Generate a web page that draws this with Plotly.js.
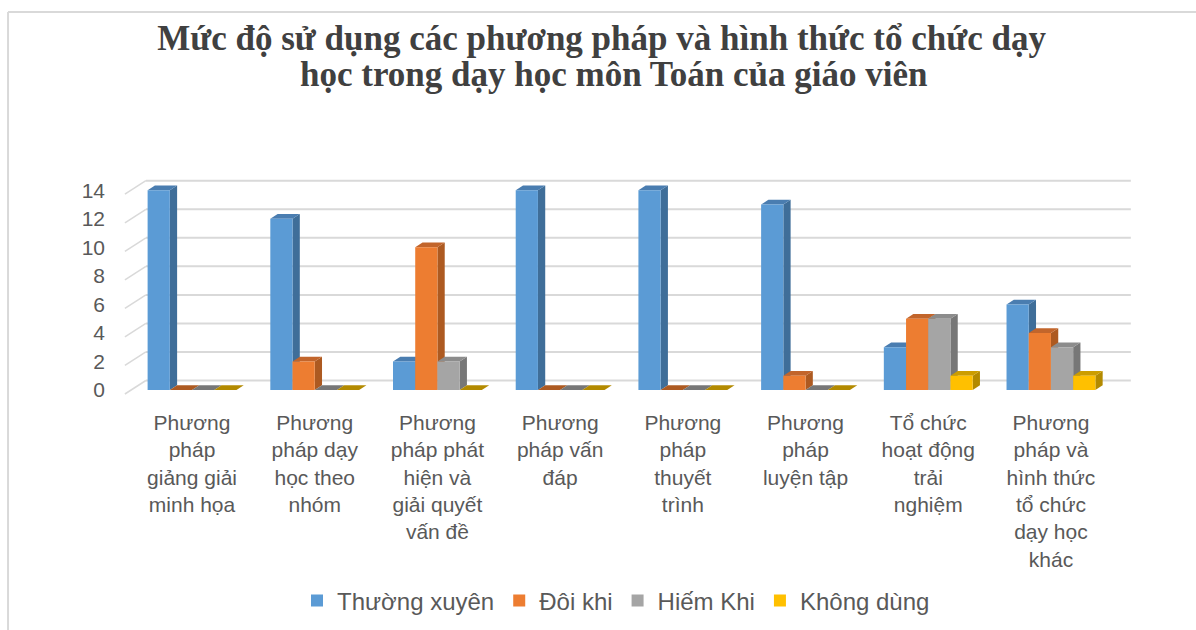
<!DOCTYPE html>
<html>
<head>
<meta charset="utf-8">
<script src="https://cdn.plot.ly/plotly-3.0.1.min.js"></script>
<style>
  html, body { margin: 0; padding: 0; background: #ffffff; }
  #chart { width: 1196px; height: 630px; }
</style>
</head>
<body>
<div id="chart"></div>
<script>
// ---- Data ----
const categories = [
  "Phương<br>pháp<br>giảng giải<br>minh họa",
  "Phương<br>pháp dạy<br>học theo<br>nhóm",
  "Phương<br>pháp phát<br>hiện và<br>giải quyết<br>vấn đề",
  "Phương<br>pháp vấn<br>đáp",
  "Phương<br>pháp<br>thuyết<br>trình",
  "Phương<br>pháp<br>luyện tập",
  "Tổ chức<br>hoạt động<br>trải<br>nghiệm",
  "Phương<br>pháp và<br>hình thức<br>tổ chức<br>dạy học<br>khác"
];
const thuongXuyen = [14, 12, 2, 14, 14, 13, 3, 6];
const doiKhi      = [0, 2, 10, 0, 0, 1, 5, 4];
const hiemKhi     = [0, 0, 2, 0, 0, 0, 5, 3];
const khongDung   = [0, 0, 0, 0, 0, 0, 1, 1];
const seriesNames = ["Thường xuyên", "Đôi khi", "Hiếm Khi", "Không dùng"];
const yTickVals = [0, 2, 4, 6, 8, 10, 12, 14];
const titleLine1 = "Mức độ sử dụng các phương pháp và hình thức tổ chức dạy";
const titleLine2 = "học trong dạy học môn Toán của giáo viên";

// ---- Styles ----
const frontColors = ["#5B9BD5", "#ED7D31", "#A5A5A5", "#FFC000"];
const sideColors  = ["#3F6E99", "#AD5A21", "#777777", "#B38A00"];
const topColors   = ["#4A7DB0", "#C2652B", "#8C8C8C", "#CC9D00"];
const seriesValues = [thuongXuyen, doiKhi, hiemKhi, khongDung];

const BW = 0.181;   // bar width (category units)
const DX = 0.0594;  // depth offset x
const DY = 0.33;    // depth offset y
const BACK = 0.666; // back wall vertical offset
const xIdx = categories.map((_, j) => j);
const titleFont = { family: "Liberation Serif", size: 35, color: "#404040", weight: "bold" };

const traces = seriesValues.map((vals, i) => ({
  type: "bar",
  name: seriesNames[i],
  x: xIdx,
  y: vals,
  width: BW,
  offset: -2 * BW + i * BW,
  marker: { color: frontColors[i], line: { width: 0 } },
  hoverinfo: "name+y"
}));

const shapes = [];
// back-wall gridlines and connectors
yTickVals.forEach(v => {
  shapes.push({ type: "line", layer: "below", xref: "x", yref: "y",
    x0: -0.376, x1: 7.651, y0: v + BACK, y1: v + BACK,
    line: { color: "#D9D9D9", width: 2 } });
  shapes.push({ type: "line", layer: "below", xref: "x", yref: "y",
    x0: -0.547, x1: -0.376, y0: v - 0.28, y1: v + BACK,
    line: { color: "#D9D9D9", width: 1.5 } });
});
// 3D side and top faces
seriesValues.forEach((vals, i) => {
  vals.forEach((v, j) => {
    const x0 = j - 2 * BW + i * BW;
    const x1 = x0 + BW;
    if (v > 0) {
      shapes.push({ type: "path", layer: "below", xref: "x", yref: "y",
        path: `M${x1},0 L${x1},${v} L${x1 + DX},${v + DY} L${x1 + DX},${DY} Z`,
        fillcolor: sideColors[i], line: { width: 0 } });
    }
    shapes.push({ type: "path", layer: "below", xref: "x", yref: "y",
      path: `M${x0},${v} L${x1},${v} L${x1 + DX},${v + DY} L${x0 + DX},${v + DY} Z`,
      fillcolor: v > 0 ? topColors[i] : sideColors[i], line: { width: 0 } });
  });
});
// outer chart frame (left and top edges)
shapes.push({ type: "line", xref: "paper", yref: "paper", x0: -0.1103, x1: -0.1103, y0: 1.741, y1: -1.07,
  line: { color: "#D9D9D9", width: 2 } });
shapes.push({ type: "line", xref: "paper", yref: "paper", x0: -0.1103, x1: 1.07, y0: 1.741, y1: 1.741,
  line: { color: "#D9D9D9", width: 2 } });

const layout = {
  width: 1196,
  height: 630,
  margin: { l: 120, r: 61, t: 175, b: 235 },
  paper_bgcolor: "#ffffff",
  plot_bgcolor: "rgba(0,0,0,0)",
  barmode: "overlay",
  showlegend: true,
  title: {
    text: titleLine1,
    xref: "container", x: 0.503, xanchor: "center",
    yref: "container", y: 1 - 38 / 630, yanchor: "middle",
    font: titleFont
  },
  annotations: [{
    text: titleLine2, showarrow: false,
    xref: "paper", yref: "paper",
    x: (614 - 120) / 1015, xanchor: "center",
    y: (395 - 74) / 220, yanchor: "middle",
    font: titleFont
  }],
  xaxis: {
    range: [-0.587, 7.685],
    tickmode: "array",
    tickvals: xIdx,
    ticktext: categories,
    showgrid: false, zeroline: false, showline: false, ticks: "",
    ticklabelstandoff: 13,
    tickfont: { family: "Liberation Sans", size: 21, color: "#595959" },
    fixedrange: true
  },
  yaxis: {
    range: [-0.3504, 15.067],
    tickmode: "array",
    tickvals: yTickVals,
    showgrid: false, zeroline: false, showline: false, ticks: "",
    ticklabelstandoff: 14,
    tickfont: { family: "Liberation Sans", size: 21, color: "#595959" },
    fixedrange: true
  },
  legend: {
    orientation: "h",
    xref: "container", x: 616 / 1196, xanchor: "center",
    yref: "container", y: 1 - 601 / 630, yanchor: "middle",
    font: { family: "Liberation Sans", size: 24, color: "#595959" },
    bgcolor: "rgba(0,0,0,0)"
  },
  shapes: shapes
};

Plotly.newPlot("chart", traces, layout, { displayModeBar: false, staticPlot: true });
</script>
</body>
</html>
